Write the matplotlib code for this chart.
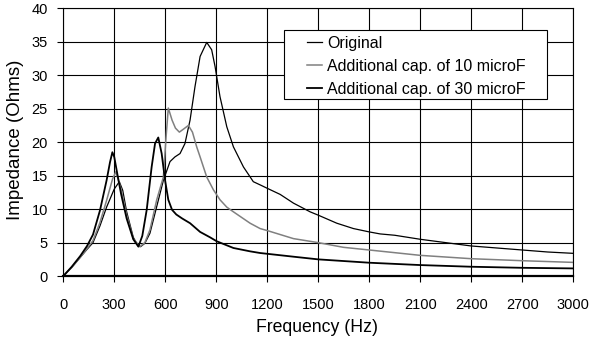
import matplotlib.pyplot as plt
from matplotlib.patches import Rectangle
import numpy as np

plt.rcParams['font.family'] = ['Liberation Sans', 'DejaVu Sans']

# original
f_orig = [0, 50, 100, 140, 175, 216, 255, 300, 330, 350, 373, 412, 440, 455, 480,
          510, 550, 589, 628, 657, 687, 716, 746, 775, 805, 844, 873, 893, 922,
          962, 1001, 1060, 1118, 1160, 1201, 1276, 1354, 1452, 1500, 1609, 1707,
          1800, 1864, 1950, 2000, 2100, 2250, 2400, 2550, 2700, 2850, 3000]
z_orig = [0, 1.3, 2.8, 4.0, 5.0, 7.5, 10.3, 13.0, 14.1, 12.8, 9.6, 5.8, 4.5, 4.4, 4.9,
          6.4, 10.4, 14.3, 17.1, 17.8, 18.3, 19.8, 23.3, 28.3, 32.8, 34.9, 33.8, 31.3, 26.8,
          22.3, 19.3, 16.3, 14.1, 13.6, 13.1, 12.2, 10.9, 9.6, 9.1, 7.9, 7.1,
          6.6, 6.3, 6.1, 5.9, 5.5, 5.0, 4.5, 4.2, 3.9, 3.6, 3.4]

# additional 10 microF
f_c10 = [0, 50, 100, 140, 175, 216, 255, 290, 310, 340, 373, 412, 451, 480, 510,
         550, 589, 605, 618, 640, 660, 683, 710, 736, 760, 785, 805, 844, 883,
         922, 962, 1001, 1099, 1158, 1200, 1354, 1500, 1648, 1800, 1950, 2100,
         2400, 2700, 3000]
z_c10 = [0, 1.3, 2.8, 4.1, 5.3, 8.0, 11.3, 14.5, 15.6, 13.0, 9.1, 5.6, 4.4, 5.0, 6.9,
         11.4, 14.8, 20.8, 25.1, 23.3, 22.1, 21.5, 22.0, 22.5, 21.5, 19.3, 17.8, 14.8, 12.9,
         11.4, 10.3, 9.6, 7.9, 7.1, 6.8, 5.6, 5.0, 4.3, 3.9, 3.5, 3.1,
         2.6, 2.3, 2.05]

# additional 30 microF
f_c30 = [0, 50, 100, 140, 175, 216, 255, 275, 289, 300, 320, 340, 373, 412, 442,
         465, 491, 520, 540, 559, 579, 599, 618, 640, 665, 700, 746, 805, 863, 903,
         1001, 1099, 1158, 1354, 1500, 1800, 2100, 2400, 2700, 3000]
z_c30 = [0, 1.4, 3.0, 4.5, 6.2, 9.8, 14.3, 17.0, 18.5, 17.8, 15.0, 12.3, 8.6, 5.5, 4.4,
         6.0, 9.9, 16.3, 19.8, 20.7, 18.3, 14.3, 11.4, 9.9, 9.2, 8.6, 7.9, 6.6, 5.8, 5.2,
         4.2, 3.7, 3.45, 2.9, 2.5, 2.0, 1.65, 1.4, 1.24, 1.15]

fig = plt.figure(figsize=(5.91, 3.43), dpi=100)
ax = fig.add_axes([0.107, 0.195, 0.863, 0.781])

ax.plot(f_orig, z_orig, color='black', lw=0.9, label='Original')
ax.plot(f_c10, z_c10, color='#808080', lw=1.1, label='Additional cap. of 10 microF')
ax.plot(f_c30, z_c30, color='black', lw=1.3, label='Additional cap. of 30 microF')

ax.set_xlim(0, 3000)
ax.set_ylim(0, 40)
ax.set_xticks(np.arange(0, 3001, 300))
ax.set_yticks(np.arange(0, 41, 5))
ax.grid(True, color='black', lw=0.8)
ax.set_axisbelow(True)
ax.tick_params(direction='out', length=4, width=0.8, labelsize=10.5, color='black')
ax.tick_params(axis='x', pad=11.5)
ax.tick_params(axis='y', pad=7)
for s in ax.spines.values():
    s.set_linewidth(0.8)
ax.spines['bottom'].set_linewidth(1.6)

ax.set_xlabel('Frequency (Hz)', fontsize=12.7, va='center')
ax.xaxis.set_label_coords(0.498, -0.19)
ax.set_ylabel('Impedance (Ohms)', fontsize=13.5, va='center')
ax.yaxis.set_label_coords(-0.094, 0.51)

# legend box, Excel style with wide side padding
ax.add_patch(Rectangle((0.433, 0.660), 0.516, 0.259, transform=ax.transAxes,
                       facecolor='white', edgecolor='black', lw=0.8, zorder=5))
leg = ax.legend(loc='upper left', bbox_to_anchor=(0.478, 0.898), fontsize=11.5,
                frameon=False, handlelength=0.95, handletextpad=0.3,
                borderpad=0, labelspacing=0.5, borderaxespad=0)
leg.set_zorder(6)

fig.savefig('out.png', dpi=100)
